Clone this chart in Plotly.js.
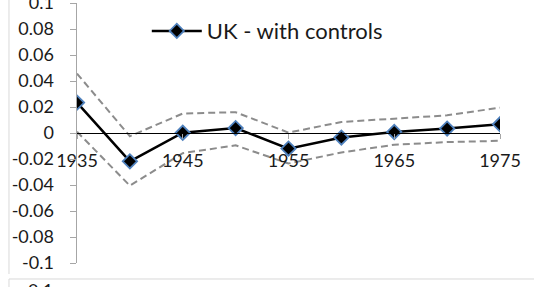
<!DOCTYPE html>
<html>
<head>
<meta charset="utf-8">
<script src="https://cdn.plot.ly/plotly-3.0.1.min.js"></script>
<style>
html,body{margin:0;padding:0;background:#fff;}
#chart{width:534px;height:287px;}
</style>
</head>
<body>
<div id="chart"></div>
<script>
var years = [1935, 1940, 1945, 1950, 1955, 1960, 1965, 1970, 1975];
var estimate = [0.0234, -0.0218, 0.0002, 0.0038, -0.0120, -0.0035, 0.0008, 0.0034, 0.0067];
var upperBound = [0.0457, -0.0025, 0.0150, 0.0160, 0.0003, 0.0085, 0.0110, 0.0136, 0.0195];
var lowerBound = [0.0010, -0.0405, -0.0155, -0.0095, -0.0235, -0.0150, -0.0090, -0.0070, -0.0060];
var seriesName = "UK - with controls";
var yTickVals = [0.1, 0.08, 0.06, 0.04, 0.02, 0, -0.02, -0.04, -0.06, -0.08, -0.1];
var yTickText = ["0.1", "0.08", "0.06", "0.04", "0.02", "0", "-0.02", "-0.04", "-0.06", "-0.08", "-0.1"];
var xTickVals = [1935, 1945, 1955, 1965, 1975];
var xTickText = ["1935", "1945", "1955", "1965", "1975"];
var nextChartLabel = "0.1";

var FONT = "Lato, 'Open Sans', sans-serif";
var dashStyle = {color: "#8c8c8c", width: 2, dash: "7px,4px"};

var traces = [
  {x: years, y: upperBound, mode: "lines", line: dashStyle, showlegend: false, hoverinfo: "skip"},
  {x: years, y: lowerBound, mode: "lines", line: dashStyle, showlegend: false, hoverinfo: "skip"},
  {x: years, y: estimate, mode: "lines+markers", name: seriesName,
   line: {color: "#000000", width: 2.5},
   marker: {symbol: "diamond", size: 11, color: "#000000", line: {color: "#4f81bd", width: 1.8}}}
];

var layout = {
  width: 534, height: 287,
  margin: {l: 77, r: 34, t: 3, b: 24, pad: 0},
  paper_bgcolor: "#ffffff", plot_bgcolor: "#ffffff",
  font: {family: FONT, size: 18, color: "#1a1a1a"},
  showlegend: true,
  legend: {x: 0.165, xanchor: "left", y: 0.892, yanchor: "middle",
           font: {family: FONT, size: 22, color: "#1a1a1a"},
           bgcolor: "rgba(0,0,0,0)", itemwidth: 50},
  xaxis: {range: [1935, 1975], anchor: "free", position: 0.5,
          tickmode: "array", tickvals: xTickVals, ticktext: xTickText,
          showgrid: false, zeroline: false,
          showline: true, linecolor: "#000000", linewidth: 1,
          ticks: "outside", ticklen: 5, tickcolor: "#a6a6a6", tickwidth: 1,
          ticklabelstandoff: 6, ticklabeloverflow: "allow",
          tickfont: {family: FONT, size: 18, color: "#1a1a1a"}},
  yaxis: {range: [-0.1, 0.1], tickmode: "array", tickvals: yTickVals, ticktext: yTickText,
          showgrid: false, zeroline: false,
          showline: true, linecolor: "#a6a6a6", linewidth: 1.5,
          ticks: "outside", ticklen: 6, tickcolor: "#a6a6a6", tickwidth: 1,
          ticklabelstandoff: 12, ticklabeloverflow: "allow",
          tickfont: {family: FONT, size: 18, color: "#1a1a1a"}},
  shapes: [
    {type: "line", xref: "paper", yref: "paper", x0: -0.1608, x1: -0.1608, y0: 1.05, y1: -0.0423,
     line: {color: "#d9d9d9", width: 1}},
    {type: "line", xref: "paper", yref: "paper", x0: -0.1608, x1: 1.2, y0: -0.0615, y1: -0.0615,
     line: {color: "#d9d9d9", width: 1}},
    {type: "line", xref: "paper", yref: "paper", x0: -0.1608, x1: -0.1608, y0: -0.0615, y1: -0.12,
     line: {color: "#d9d9d9", width: 1}}
  ],
  annotations: [
    {xref: "paper", yref: "paper", x: -0.052, y: -0.104, xanchor: "right", yanchor: "middle",
     text: nextChartLabel, showarrow: false, font: {family: FONT, size: 18, color: "#1a1a1a"}}
  ]
};

Plotly.newPlot("chart", traces, layout, {displayModeBar: false, staticPlot: true});
</script>
</body>
</html>
